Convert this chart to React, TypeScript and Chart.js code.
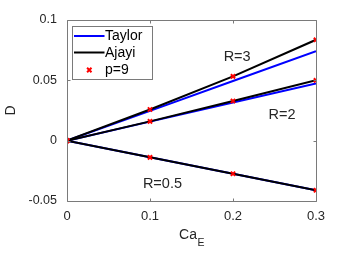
import React, { useEffect, useRef } from "react";
import { Chart, registerables } from "chart.js";

Chart.register(...registerables);

const caE = [0, 0.1, 0.2, 0.3];
const xTicks = [0, 0.1, 0.2, 0.3];
const xTickLabels = ["0", "0.1", "0.2", "0.3"];
const yTicks = [-0.05, 0, 0.05, 0.1];
const yTickLabels = ["-0.05", "0", "0.05", "0.1"];

const taylorR3 = [0, 0.0247, 0.0495, 0.0742];
const taylorR2 = [0, 0.0158, 0.0316, 0.0473];
const taylorR05 = [0, -0.0137, -0.0274, -0.0411];

const ajayiR3 = [0, 0.0258, 0.0533, 0.0836];
const ajayiR2 = [0, 0.016, 0.0329, 0.05];
const ajayiR05 = [0, -0.0138, -0.0274, -0.0411];

const p9R3 = [0, 0.0258, 0.0533, 0.0836];
const p9R2 = [0, 0.016, 0.0329, 0.05];
const p9R05 = [0, -0.0138, -0.0274, -0.0411];

const seriesNames = ["Taylor", "Ajayi", "p=9"];
const annotations = [
  { text: "R=3", x: 0.205, y: 0.069 },
  { text: "R=2", x: 0.259, y: 0.021 },
  { text: "R=0.5", x: 0.115, y: -0.036 },
];

const FONT = "'Liberation Sans', Arial, Helvetica, sans-serif";
const TEXT = "#262626";
const AXIS = "#7a7a7a";
const BLUE = "#0000ff";
const BLACK = "#000000";
const RED = "#ff0000";

const toPts = (ys: number[]) => caE.map((x, i) => ({ x, y: ys[i] }));

const framePlugin = {
  id: "frame",
  afterDraw(chart: any) {
    const { ctx, chartArea: a, scales } = chart;
    const xs = scales.x;
    const ys = scales.y;
    ctx.save();
    ctx.strokeStyle = AXIS;
    ctx.lineWidth = 1;
    const L = Math.round(a.left) + 0.5;
    const R = Math.round(a.right) + 0.5;
    const T = Math.round(a.top) + 0.5;
    const B = Math.round(a.bottom) + 0.5;
    ctx.beginPath();
    ctx.rect(L, T, R - L, B - T);
    ctx.stroke();
    const tl = 3;
    ctx.beginPath();
    xTicks.forEach((v) => {
      const px = Math.round(xs.getPixelForValue(v)) + 0.5;
      ctx.moveTo(px, B);
      ctx.lineTo(px, B - tl);
      ctx.moveTo(px, T);
      ctx.lineTo(px, T + tl);
    });
    yTicks.forEach((v) => {
      const py = Math.round(ys.getPixelForValue(v)) + 0.5;
      ctx.moveTo(L, py);
      ctx.lineTo(L + tl, py);
      ctx.moveTo(R, py);
      ctx.lineTo(R - tl, py);
    });
    ctx.stroke();

    // axis titles
    ctx.fillStyle = TEXT;
    ctx.textAlign = "center";
    ctx.textBaseline = "middle";
    ctx.font = `14px ${FONT}`;
    const cx = (a.left + a.right) / 2;
    const caW = ctx.measureText("Ca").width;
    ctx.font = `10.5px ${FONT}`;
    const eW = ctx.measureText("E").width;
    const start = cx - (caW + eW) / 2;
    ctx.textAlign = "left";
    ctx.font = `14px ${FONT}`;
    ctx.fillText("Ca", start, 235);
    ctx.font = `10.5px ${FONT}`;
    ctx.fillText("E", start + caW + 0.5, 243);

    ctx.save();
    ctx.translate(11, (a.top + a.bottom) / 2);
    ctx.rotate(-Math.PI / 2);
    ctx.textAlign = "center";
    ctx.font = `14px ${FONT}`;
    ctx.fillText("D", 0, 0);
    ctx.restore();

    // legend
    const bx = 72.5, by = 26.5, bw = 80, bh = 53;
    ctx.fillStyle = "#ffffff";
    ctx.fillRect(bx, by, bw, bh);
    ctx.strokeStyle = AXIS;
    ctx.strokeRect(bx, by, bw, bh);
    const rows = [36, 52.5, 70];
    const colors = [BLUE, BLACK];
    ctx.lineWidth = 2;
    for (let i = 0; i < 2; i++) {
      ctx.strokeStyle = colors[i];
      ctx.beginPath();
      ctx.moveTo(74, rows[i]);
      ctx.lineTo(104.5, rows[i]);
      ctx.stroke();
    }
    // marker
    ctx.strokeStyle = RED;
    ctx.lineWidth = 2;
    const mx = 89.3, my = rows[2], r = 2.2;
    ctx.beginPath();
    ctx.moveTo(mx - r, my - r);
    ctx.lineTo(mx + r, my + r);
    ctx.moveTo(mx - r, my + r);
    ctx.lineTo(mx + r, my - r);
    ctx.stroke();
    ctx.fillStyle = BLACK;
    ctx.font = `14px ${FONT}`;
    ctx.textAlign = "left";
    ctx.textBaseline = "middle";
    seriesNames.forEach((n, i) => ctx.fillText(n, 105, rows[i] + 0.5));
    ctx.restore();
  },
  afterDatasetsDraw(chart: any) {
    const { ctx, scales } = chart;
    ctx.save();
    ctx.fillStyle = TEXT;
    ctx.font = `14.5px ${FONT}`;
    ctx.textAlign = "center";
    ctx.textBaseline = "middle";
    annotations.forEach((an) => {
      ctx.fillText(an.text, scales.x.getPixelForValue(an.x), scales.y.getPixelForValue(an.y));
    });
    ctx.restore();
  },
};

const lineDs = (label: string, ys: number[], color: string, order: number) => ({
  label,
  data: toPts(ys),
  borderColor: color,
  backgroundColor: color,
  borderWidth: 2,
  pointRadius: 0,
  tension: 0,
  fill: false,
  order,
});

const markDs = (label: string, ys: number[]) => ({
  label,
  data: toPts(ys),
  showLine: false,
  pointStyle: "crossRot",
  pointRadius: 3,
  pointBorderWidth: 2,
  pointBorderColor: RED,
  pointBackgroundColor: RED,
  borderColor: RED,
  order: 0,
});

export default function App() {
  const ref = useRef<HTMLCanvasElement | null>(null);
  useEffect(() => {
    if (!ref.current) return;
    const chart = new Chart(ref.current, {
      type: "line",
      data: {
        datasets: [
          lineDs("Taylor", taylorR3, BLUE, 2),
          lineDs("Taylor", taylorR2, BLUE, 2),
          lineDs("Taylor", taylorR05, BLUE, 2),
          lineDs("Ajayi", ajayiR3, BLACK, 1),
          lineDs("Ajayi", ajayiR2, BLACK, 1),
          lineDs("Ajayi", ajayiR05, BLACK, 1),
          markDs("p=9", p9R3),
          markDs("p=9", p9R2),
          markDs("p=9", p9R05),
        ] as any,
      },
      options: {
        animation: false,
        responsive: false,
        devicePixelRatio: 1,
        layout: { padding: { left: 0, top: 20, right: 33, bottom: 0 } },
        plugins: { legend: { display: false }, tooltip: { enabled: false } },
        scales: {
          x: {
            type: "linear",
            min: 0,
            max: 0.3,
            grid: { display: false, drawTicks: false },
            border: { display: false },
            afterBuildTicks: (s: any) => {
              s.ticks = xTicks.map((v) => ({ value: v }));
            },
            afterFit: (s: any) => {
              s.height = 52;
            },
            ticks: {
              padding: 8,
              color: TEXT,
              font: { family: FONT, size: 13 },
              maxRotation: 0,
              callback: (v: any) => xTickLabels[xTicks.findIndex((t) => Math.abs(t - v) < 1e-9)] ?? "",
            },
          },
          y: {
            type: "linear",
            min: -0.05,
            max: 0.1,
            grid: { display: false, drawTicks: false },
            border: { display: false },
            afterBuildTicks: (s: any) => {
              s.ticks = yTicks.map((v) => ({ value: v }));
            },
            afterFit: (s: any) => {
              s.width = 67;
            },
            ticks: {
              padding: 10,
              color: TEXT,
              font: { family: FONT, size: 12.5 },
              callback: (v: any) => yTickLabels[yTicks.findIndex((t) => Math.abs(t - v) < 1e-9)] ?? "",
            },
          },
        },
      },
      plugins: [framePlugin],
    });
    return () => chart.destroy();
  }, []);
  return (
    <div style={{ position: "absolute", left: 0, top: 0, width: 349, height: 253, background: "#fff" }}>
      <canvas ref={ref} width={349} height={253} style={{ display: "block" }} />
    </div>
  );
}
